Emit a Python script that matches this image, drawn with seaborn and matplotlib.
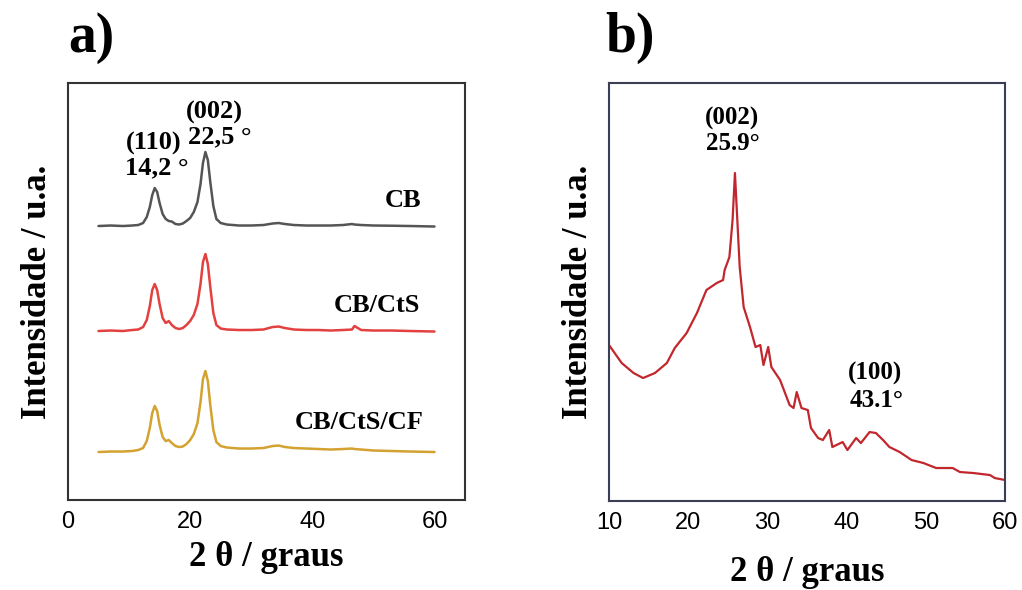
import numpy as np
import pandas as pd
import matplotlib
matplotlib.use("Agg")
import matplotlib.pyplot as plt
import seaborn as sns
from matplotlib.ticker import MultipleLocator

# painel a) - difratogramas empilhados (altura acima da linha de base)
theta_a = [5, 7, 9, 10.5, 11.5, 12.3, 12.9, 13.4, 13.8, 14.2, 14.6, 15.0, 15.5, 16.0,
           16.5, 17.0, 17.6, 18.2, 18.8, 19.4, 20.0, 20.6, 21.2, 21.7, 22.1, 22.5,
           22.9, 23.3, 23.8, 24.3, 25.0, 26, 28, 30, 32, 33.5, 34.5, 35.5, 37, 39,
           41, 43, 45, 46.5, 46.9, 48, 50, 53, 56, 60]
cb = [0, 0.5, 0, 0.5, 1, 3, 9, 19, 31, 38, 34, 23, 12, 7,
      5, 4.5, 2, 1.5, 2.5, 5, 8, 14, 24, 42, 63, 74,
      66, 44, 20, 7, 3, 1.5, 0.5, 0.5, 1, 2.5, 3, 2, 1, 0.5,
      0.5, 0.5, 1, 2, 1.5, 1, 0.5, 0.3, 0, -0.5]
cb_cts = [0, 0.5, 0, 1, 1.5, 4, 11, 25, 41, 47, 41, 27, 13, 8,
          10, 6, 3, 2, 3, 6, 10, 16, 27, 47, 69, 77,
          67, 44, 18, 6, 2.5, 1.5, 1, 1, 1.5, 4, 4.5, 3, 1.5, 1,
          1, 0.5, 1, 1.5, 5, 1, 0.5, 0.5, 0, -0.5]
cb_cts_cf = [0, 0.5, 0.5, 1, 2, 4, 11, 24, 39, 46, 41, 27, 15, 11,
             12, 9, 6, 5, 5.5, 8, 12, 18, 29, 50, 73, 81,
             71, 47, 22, 10, 6, 4.5, 3.5, 3.5, 4, 6, 6.5, 5, 4, 3.5,
             3, 2.5, 3, 3.5, 3, 2.5, 1.5, 1, 0.5, 0]
amostras = ["CB", "CB/CtS", "CB/CtS/CF"]
deslocamento = [274, 169, 48]
cores_a = ["#555555", "#e2413f", "#d4a230"]

# painel b) - carbono
theta_b = [10, 11.6, 13.1, 14.3, 15.8, 17.3, 18.3, 19.8, 21.1, 22.3, 23.6, 24.4,
           24.6, 25.2, 25.6, 25.9, 26.2, 26.5, 27.0, 27.8, 28.5, 29.1, 29.5, 30.1,
           30.5, 31.6, 32.8, 33.3, 33.7, 34.3, 35.1, 35.5, 36.4, 37.0, 37.8, 38.2,
           39.5, 40.1, 41.2, 41.8, 42.9, 43.7, 44.6, 45.4, 46.7, 48.2, 49.7, 51.3,
           53.4, 54.3, 56.0, 58.1, 58.7, 60]
int_b = [156, 138, 128, 123, 128, 138, 153, 168, 188, 211, 218, 221,
         231, 244, 281, 328, 281, 234, 194, 174, 154, 156, 136, 154,
         134, 121, 96, 93, 109, 93, 91, 73, 63, 61, 71, 54,
         59, 51, 63, 58, 69, 68, 61, 54, 49, 41, 38, 33,
         33, 29, 28, 26, 23, 21]

serif = ["Liberation Serif", "DejaVu Serif"]
sns.set_style("white")
plt.rcParams["font.family"] = ["Liberation Sans", "DejaVu Sans"]
plt.rcParams["text.color"] = "black"
plt.rcParams["axes.labelcolor"] = "black"
plt.rcParams["xtick.labelcolor"] = "black"

fig = plt.figure(figsize=(10.22, 5.9), dpi=100)
ax1 = fig.add_axes([0.0665, 0.1525, 0.3885, 0.7068])
ax2 = fig.add_axes([0.5959, 0.1508, 0.3875, 0.7085])

for nome, off, cor, vals in zip(amostras, deslocamento, cores_a, [cb, cb_cts, cb_cts_cf]):
    df = pd.DataFrame({"x": theta_a, "y": np.array(vals) + off})
    sns.lineplot(data=df, x="x", y="y", ax=ax1, color=cor, lw=1.8)

ax1.set_xlim(0, 65)
ax1.set_ylim(0, 417)
ax1.xaxis.set_major_locator(MultipleLocator(20))
ax1.xaxis.set_minor_locator(MultipleLocator(10))

txt = dict(family=serif, weight="bold", ha="center", va="center")
ax1.text(14.0, 357, "(110)", fontsize=19, **txt)
ax1.text(14.5, 332, "14,2 °", fontsize=19, **txt)
ax1.text(24.0, 388, "(002)", fontsize=19, **txt)
ax1.text(24.8, 363, "22,5 °", fontsize=19, **txt)
ax1.text(57.9, 300, "CB", fontsize=19, family=serif, weight="bold", ha="right", va="center")
ax1.text(57.7, 195, "CB/CtS", fontsize=19, family=serif, weight="bold", ha="right", va="center")
ax1.text(58.3, 78, "CB/CtS/CF", fontsize=19, family=serif, weight="bold", ha="right", va="center")

sns.lineplot(x=theta_b, y=int_b, ax=ax2, color="#c1272d", lw=1.6)
ax2.set_xlim(10, 60)
ax2.set_ylim(0, 418)
ax2.xaxis.set_major_locator(MultipleLocator(10))
ax2.xaxis.set_minor_locator(MultipleLocator(5))
ax2.text(25.5, 383, "(002)", fontsize=18, **txt)
ax2.text(25.6, 358, "25.9°", fontsize=18, **txt)
ax2.text(43.6, 128, "(100)", fontsize=18, **txt)
ax2.text(43.8, 101, "43.1°", fontsize=18, **txt)

for ax, cor_eixo, pad_x in [(ax1, "#333333", 6), (ax2, "#3a3f55", 16)]:
    ax.set_yticks([])
    for s in ax.spines.values():
        s.set_color(cor_eixo)
        s.set_linewidth(1.5)
    ax.tick_params(axis="x", which="major", direction="in", length=5, width=1.2,
                   color=cor_eixo, labelsize=17, pad=8)
    ax.tick_params(axis="x", which="minor", direction="in", length=3, width=1.0,
                   color=cor_eixo)
    ax.set_xlabel("2 θ / graus", family=serif, weight="bold", fontsize=25, labelpad=pad_x)
    ax.set_ylabel("Intensidade / u.a.", family=serif, weight="bold", fontsize=25, labelpad=10)

fig.text(0.067, 0.935, "a)", family=serif, weight="bold", fontsize=40, ha="left", va="center")
fig.text(0.592, 0.935, "b)", family=serif, weight="bold", fontsize=40, ha="left", va="center")

fig.savefig("out.png", dpi=100, facecolor="white")
